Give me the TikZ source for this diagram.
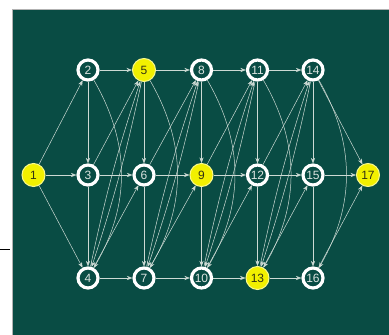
\documentclass[tikz,border=0pt]{standalone}
\usepackage{fontspec}
\setmainfont{Liberation Sans}
\usetikzlibrary{arrows.meta}
\definecolor{bg}{RGB}{9,76,68}
\definecolor{yel}{RGB}{242,240,0}
\definecolor{edgec}{RGB}{205,218,212}
\definecolor{txtw}{RGB}{220,228,224}
\definecolor{txtd}{RGB}{50,50,20}
\tikzset{
  nd/.style={circle, draw=white, line width=3.2pt, minimum size=20pt, inner sep=0pt,
    text=txtw, font=\fontsize{12}{12}\selectfont},
  yn/.style={circle, draw=white!55!yel, fill=yel, line width=1pt, minimum size=23pt, inner sep=0pt,
    text=txtd, font=\fontsize{12}{12}\selectfont},
  ed/.style={draw=edgec, line width=0.5pt, -{Stealth[length=5.5pt,width=4.2pt]}},
}
\begin{document}
\begin{tikzpicture}[x=1pt,y=-1pt]
\useasboundingbox (0,0) rectangle (389,335);
\fill[white] (0,0) rectangle (389,335);
\fill[bg] (12,9.5) rectangle (389,335);
\draw[gray!60, line width=0.5pt] (12,335) -- (12,9.5) -- (389,9.5);
\draw[black, line width=0.8pt] (0,249) -- (10,249);
% nodes
\node[yn] (n1) at (33.5,175) {1};
\node[nd] (n2) at (88,70) {2};
\node[nd] (n3) at (88,175) {3};
\node[nd] (n4) at (88,278) {4};
\node[yn] (n5) at (144,70) {5};
\node[nd] (n6) at (144,175) {6};
\node[nd] (n7) at (144,278) {7};
\node[nd] (n8) at (201.5,70) {8};
\node[yn] (n9) at (201.5,175) {9};
\node[nd] (n10) at (201.5,278) {10};
\node[nd] (n11) at (257.5,70) {11};
\node[nd] (n12) at (257.5,175) {12};
\node[yn] (n13) at (257.5,278) {13};
\node[nd] (n14) at (313,70) {14};
\node[nd] (n15) at (313,175) {15};
\node[nd] (n16) at (313,278) {16};
\node[yn] (n17) at (368,175) {17};
% edges
\draw[ed] (n1) -- (n2);
\draw[ed] (n1) -- (n3);
\draw[ed] (n1) -- (n4);
\foreach \ta/\ma/\ba/\tb/\mb/\bb in {2/3/4/5/6/7, 5/6/7/8/9/10, 8/9/10/11/12/13, 11/12/13/14/15/16}{
  \draw[ed] (n\ta) -- (n\tb);
  \draw[ed] (n\ma) -- (n\mb);
  \draw[ed] (n\ba) -- (n\bb);
  \draw[ed] (n\ta) -- (n\ma);
  \draw[ed] (n\ma) -- (n\ba);
  \draw[ed] (n\ta) to[bend left=30] (n\ba);
  \draw[ed] (n\ma) -- (n\tb);
  \draw[ed] (n\ba) -- (n\mb);
  \draw[ed] (n\ba) to[bend left=3] (n\tb);
  \draw[ed] (n\tb) to[bend left=3] (n\ba);
}
\draw[ed] (n14) -- (n15);
\draw[ed] (n15) -- (n16);
\draw[ed] (n14) to[bend left=30] (n16);
\draw[ed] (n14) -- (n17);
\draw[ed] (n15) -- (n17);
\draw[ed] (n16) -- (n17);
\end{tikzpicture}
\end{document}
